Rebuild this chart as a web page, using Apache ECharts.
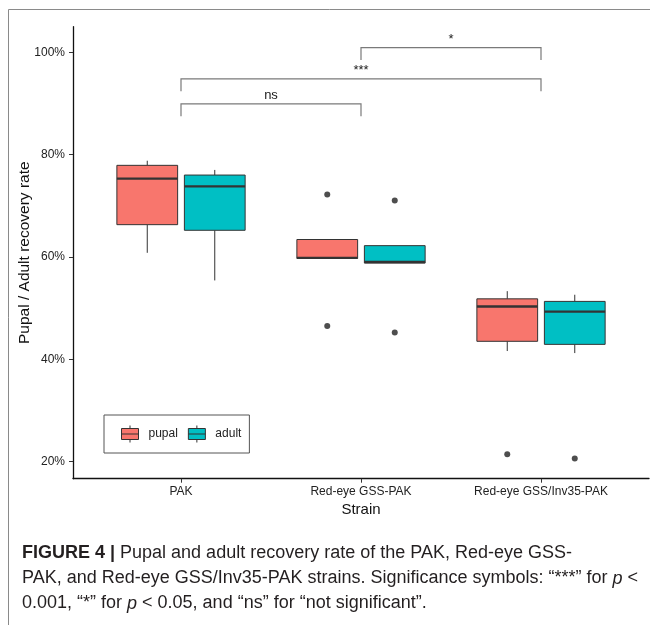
<!DOCTYPE html>
<html>
<head>
<meta charset="utf-8">
<script src="https://cdn.jsdelivr.net/npm/echarts@6/dist/echarts.min.js"></script>
<style>
  html, body { margin: 0; padding: 0; background: #fff; }
  #chart { width: 650px; height: 625px; }
</style>
</head>
<body>
<div id="chart"></div>
<script>
// Strains on the x axis and the two life stages compared within each strain
const strains = ['PAK', 'Red-eye GSS-PAK', 'Red-eye GSS/Inv35-PAK'];
const stages = ['pupal', 'adult'];

// Box statistics per strain, in percent: [lower whisker, Q1, median, Q3, upper whisker]
const pupalStats = [
  [60.8, 66.3, 75.3, 77.9, 78.8],
  [59.7, 59.7, 59.8, 63.4, 63.4],
  [41.6, 43.5, 50.3, 51.8, 53.3]
];
const adultStats = [
  [55.4, 65.2, 73.8, 76.0, 77.0],
  [58.8, 58.8, 59.0, 62.2, 62.2],
  [41.2, 42.9, 49.3, 51.3, 52.6]
];

// Outlying replicates per strain, in percent
const pupalOutliers = [[], [72.2, 46.5], [21.4]];
const adultOutliers = [[], [71.0, 45.2], [20.6]];

// Percent ticks on the y axis
const yTicks = [20, 40, 60, 80, 100];

// Pairwise strain comparisons: first strain, second strain, bracket height (%)
const compFrom = [0, 0, 1];
const compTo = [1, 2, 2];
const compLevel = [89.9, 94.8, 100.9];
const compLabel = ['ns', '***', '*'];

const stageColors = ['#F8766D', '#00BFC4'];
const FONT = "'Liberation Sans', Arial, Helvetica, sans-serif";
const BOX_W = 0.3375;      // box width in category units
const DODGE = 0.1875;      // offset of each stage from the strain centre
const LEG = 2.4;           // bracket leg length, percent units

function boxRenderer(offset) {
  return function (params, api) {
    const x = api.value(0) + offset;
    const lo = api.coord([x, api.value(1)]);
    const q1 = api.coord([x, api.value(2)]);
    const med = api.coord([x, api.value(3)]);
    const q3 = api.coord([x, api.value(4)]);
    const hi = api.coord([x, api.value(5)]);
    const half = api.size([BOX_W, 0])[0] / 2;
    const cx = med[0];
    const line = { stroke: '#333', lineWidth: 1 };
    return {
      type: 'group',
      children: [
        { type: 'line', shape: { x1: cx, y1: hi[1], x2: cx, y2: q3[1] }, style: line },
        { type: 'line', shape: { x1: cx, y1: q1[1], x2: cx, y2: lo[1] }, style: line },
        {
          type: 'rect',
          shape: { x: cx - half, y: q3[1], width: half * 2, height: q1[1] - q3[1] },
          style: { fill: api.visual('color'), stroke: '#333', lineWidth: 1 }
        },
        { type: 'line', shape: { x1: cx - half, y1: med[1], x2: cx + half, y2: med[1] },
          style: { stroke: '#333', lineWidth: 2.3 } }
      ]
    };
  };
}

function bracketRenderer(params, api) {
  const i = params.dataIndex;
  const a = api.coord([api.value(0), api.value(2)]);
  const b = api.coord([api.value(1), api.value(2)]);
  const aLow = api.coord([api.value(0), api.value(2) - LEG]);
  const bLow = api.coord([api.value(1), api.value(2) - LEG]);
  return {
    type: 'group',
    children: [
      {
        type: 'polyline',
        shape: { points: [[a[0], aLow[1]], a, b, [b[0], bLow[1]]] },
        style: { stroke: '#7a7a7a', lineWidth: 1.2, fill: null }
      },
      {
        type: 'text',
        x: (a[0] + b[0]) / 2,
        y: a[1] - 2,
        style: {
          text: compLabel[i], fill: '#1a1a1a', font: '13px ' + FONT,
          align: 'center', verticalAlign: 'bottom'
        }
      }
    ]
  };
}

function boxData(stats) {
  return stats.map((s, i) => [i].concat(s));
}
function outlierData(outliers, offset) {
  const pts = [];
  outliers.forEach((vals, i) => vals.forEach(v => pts.push([i + offset, v])));
  return pts;
}

const legendIcon = 'path://M0,3L17,3L17,14L0,14Z M0,8.5L17,8.5 M8.5,0L8.5,3 M8.5,14L8.5,17';
const CAPTION_FONT = "'Liberation Sans', Arial, Helvetica, sans-serif";
const CAPTION_SIZE = 18;

const chart = echarts.init(document.getElementById('chart'), null, { renderer: 'canvas' });
chart.setOption({
  animation: false,
  backgroundColor: '#fff',
  textStyle: { fontFamily: FONT },
  grid: { left: 73, right: 1, top: 26.7, bottom: 146.3, containLabel: false },
  xAxis: {
    type: 'value',
    min: -0.6,
    max: 2.6,
    name: 'Strain',
    nameLocation: 'middle',
    nameGap: 21,
    nameTextStyle: { fontSize: 15, color: '#111', fontFamily: FONT },
    axisLine: { show: true, onZero: false, lineStyle: { color: '#111', width: 1.3 } },
    axisTick: { show: true, length: 4, customValues: [0, 1, 2], lineStyle: { color: '#333' } },
    axisLabel: {
      customValues: [0, 1, 2], margin: 7, fontSize: 12, color: '#222', fontFamily: FONT,
      formatter: v => strains[Math.round(v)]
    },
    splitLine: { show: false }
  },
  yAxis: {
    type: 'value',
    min: 16.64,
    max: 105,
    axisLine: { show: true, onZero: false, lineStyle: { color: '#111', width: 1.3 } },
    axisTick: { show: true, length: 4, customValues: yTicks, lineStyle: { color: '#333' } },
    axisLabel: {
      customValues: yTicks, margin: 8, fontSize: 12, color: '#222', fontFamily: FONT,
      formatter: v => v + '%'
    },
    splitLine: { show: false }
  },
  legend: {
    data: stages,
    left: 104,
    top: 415,
    orient: 'horizontal',
    icon: legendIcon,
    itemWidth: 17,
    itemHeight: 17,
    itemGap: 10,
    padding: [10, 8, 10, 17],
    borderColor: '#555',
    borderWidth: 1,
    borderRadius: 0,
    backgroundColor: '#fff',
    itemStyle: { borderColor: '#333', borderWidth: 1 },
    textStyle: { fontSize: 12, color: '#222', fontFamily: FONT, padding: [0, 0, 0, 5] },
    selectedMode: false
  },
  series: [
    {
      name: 'pupal', type: 'custom', renderItem: boxRenderer(-DODGE),
      itemStyle: { color: stageColors[0] }, data: boxData(pupalStats),
      encode: { x: 0, y: [1, 2, 3, 4, 5] }, clip: false
    },
    {
      name: 'adult', type: 'custom', renderItem: boxRenderer(DODGE),
      itemStyle: { color: stageColors[1] }, data: boxData(adultStats),
      encode: { x: 0, y: [1, 2, 3, 4, 5] }, clip: false
    },
    {
      name: 'pupal outliers', type: 'scatter', symbol: 'circle', symbolSize: 6,
      itemStyle: { color: '#222' }, data: outlierData(pupalOutliers, -DODGE)
    },
    {
      name: 'adult outliers', type: 'scatter', symbol: 'circle', symbolSize: 6,
      itemStyle: { color: '#222' }, data: outlierData(adultOutliers, DODGE)
    },
    {
      name: 'comparisons', type: 'custom', renderItem: bracketRenderer,
      data: compFrom.map((f, i) => [f, compTo[i], compLevel[i]]),
      encode: { x: [0, 1], y: 2 }, clip: false
    }
  ],
  graphic: [
    // figure frame along the top and left edges
    { type: 'line', shape: { x1: 8.5, y1: 9.5, x2: 650, y2: 9.5 }, style: { stroke: '#8a8a8a', lineWidth: 1 } },
    { type: 'line', shape: { x1: 8.5, y1: 9.5, x2: 8.5, y2: 625 }, style: { stroke: '#8a8a8a', lineWidth: 1 } },
    // y axis title, centred on the plot height
    {
      type: 'text',
      x: 25,
      y: 252.7,
      rotation: Math.PI / 2,
      style: {
        text: 'Pupal / Adult recovery rate',
        font: '15.5px ' + FONT,
        fill: '#111',
        align: 'center',
        verticalAlign: 'middle'
      }
    },
    {
      type: 'text',
      left: 22,
      top: 541,
      style: {
        text: '{b|FIGURE 4 |} Pupal and adult recovery rate of the PAK, Red-eye GSS-\n' +
              'PAK, and Red-eye GSS/Inv35-PAK strains. Significance symbols: “***” for {i|p} <\n' +
              '0.001, “*” for {i|p} < 0.05, and “ns” for “not significant”.',
        font: CAPTION_SIZE + 'px ' + CAPTION_FONT,
        fill: '#231f20',
        lineHeight: 25,
        rich: {
          b: { fontWeight: 'bold', fontSize: CAPTION_SIZE, fontFamily: CAPTION_FONT, fill: '#231f20', lineHeight: 25 },
          i: { fontStyle: 'italic', fontSize: CAPTION_SIZE, fontFamily: CAPTION_FONT, fill: '#231f20', lineHeight: 25 }
        }
      }
    }
  ]
});
</script>
</body>
</html>
